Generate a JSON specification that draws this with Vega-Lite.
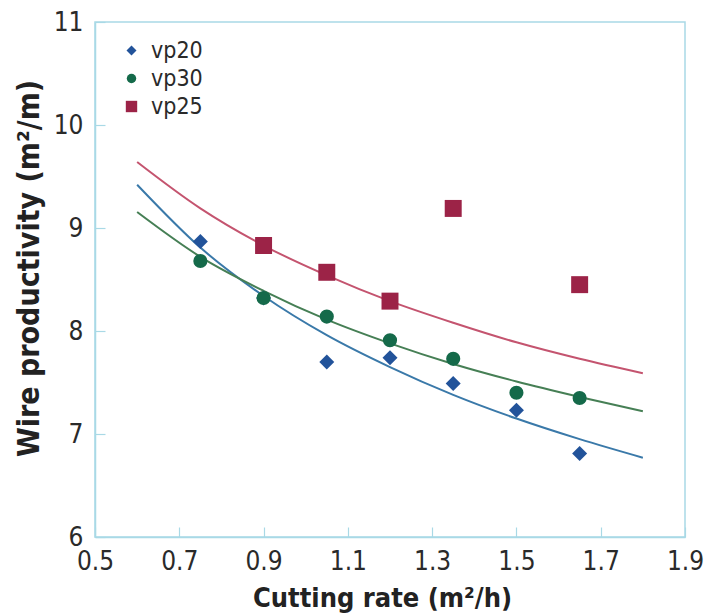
{
  "$schema": "https://vega.github.io/schema/vega-lite/v6.json",
  "width": 590,
  "height": 515,
  "autosize": {"type": "none"},
  "padding": {"left": 95, "top": 22, "right": 19, "bottom": 77},
  "background": "white",
  "config": {
    "view": {"stroke": "#a9d9e6", "strokeWidth": 1.5},
    "font": "Liberation Sans Narrow, DejaVu Sans Condensed, sans-serif",
    "axis": {
      "domainColor": "#a9d9e6",
      "domainWidth": 1.5,
      "tickColor": "#a9d9e6",
      "tickSize": -10,
      "tickWidth": 1.2,
      "grid": false,
      "labelFont": "Liberation Sans Narrow, DejaVu Sans Condensed, sans-serif",
      "labelFontSize": 26,
      "labelColor": "#2a2a2a",
      "titleFont": "Liberation Sans Narrow, DejaVu Sans Condensed, sans-serif",
      "titleFontWeight": "bold",
      "titleColor": "#222222"
    },
    "legend": {
      "labelFontSize": 23, "labelColor": "#2a2a2a", "rowPadding": 4, "labelOffset": 8,
      "symbolSize": 90,
      "labelFont": "Liberation Sans Narrow, DejaVu Sans Condensed, sans-serif"
    }
  },
  "datasets": {
    "points": [
      {"series": "vp20", "rate": 0.75, "prod": 8.87},
      {"series": "vp20", "rate": 0.9, "prod": 8.32},
      {"series": "vp20", "rate": 1.05, "prod": 7.7},
      {"series": "vp20", "rate": 1.2, "prod": 7.74},
      {"series": "vp20", "rate": 1.35, "prod": 7.49},
      {"series": "vp20", "rate": 1.5, "prod": 7.23},
      {"series": "vp20", "rate": 1.65, "prod": 6.81},
      {"series": "vp30", "rate": 0.75, "prod": 8.68},
      {"series": "vp30", "rate": 0.9, "prod": 8.32},
      {"series": "vp30", "rate": 1.05, "prod": 8.14},
      {"series": "vp30", "rate": 1.2, "prod": 7.91},
      {"series": "vp30", "rate": 1.35, "prod": 7.73},
      {"series": "vp30", "rate": 1.5, "prod": 7.4},
      {"series": "vp30", "rate": 1.65, "prod": 7.35},
      {"series": "vp25", "rate": 0.9, "prod": 8.83},
      {"series": "vp25", "rate": 1.05, "prod": 8.57},
      {"series": "vp25", "rate": 1.2, "prod": 8.29},
      {"series": "vp25", "rate": 1.35, "prod": 9.19},
      {"series": "vp25", "rate": 1.65, "prod": 8.45}
    ],
    "curves": [
      {"series": "vp20", "rate": 0.6, "prod": 9.42},
      {"series": "vp20", "rate": 0.75, "prod": 8.81},
      {"series": "vp20", "rate": 0.9, "prod": 8.34},
      {"series": "vp20", "rate": 1.05, "prod": 7.96},
      {"series": "vp20", "rate": 1.2, "prod": 7.65},
      {"series": "vp20", "rate": 1.35, "prod": 7.38},
      {"series": "vp20", "rate": 1.5, "prod": 7.15},
      {"series": "vp20", "rate": 1.65, "prod": 6.95},
      {"series": "vp20", "rate": 1.8, "prod": 6.77},
      {"series": "vp30", "rate": 0.6, "prod": 9.155},
      {"series": "vp30", "rate": 0.75, "prod": 8.72},
      {"series": "vp30", "rate": 0.9, "prod": 8.39},
      {"series": "vp30", "rate": 1.05, "prod": 8.11},
      {"series": "vp30", "rate": 1.2, "prod": 7.88},
      {"series": "vp30", "rate": 1.35, "prod": 7.68},
      {"series": "vp30", "rate": 1.5, "prod": 7.51},
      {"series": "vp30", "rate": 1.65, "prod": 7.36},
      {"series": "vp30", "rate": 1.8, "prod": 7.22},
      {"series": "vp25", "rate": 0.6, "prod": 9.64},
      {"series": "vp25", "rate": 0.75, "prod": 9.19},
      {"series": "vp25", "rate": 0.9, "prod": 8.83},
      {"series": "vp25", "rate": 1.05, "prod": 8.54},
      {"series": "vp25", "rate": 1.2, "prod": 8.29},
      {"series": "vp25", "rate": 1.35, "prod": 8.08},
      {"series": "vp25", "rate": 1.5, "prod": 7.89},
      {"series": "vp25", "rate": 1.65, "prod": 7.73},
      {"series": "vp25", "rate": 1.8, "prod": 7.59}
    ]
  },
  "encoding": {
    "x": {
      "field": "rate", "type": "quantitative",
      "scale": {"domain": [0.5, 1.9], "nice": false, "zero": false},
      "axis": {"values": [0.5, 0.7, 0.9, 1.1, 1.3, 1.5, 1.7, 1.9], "format": ".1f", "title": "Cutting rate (m²/h)",
        "labelPadding": 21, "labelFlush": false, "titleFontSize": 27, "titleX": 287, "titleY": 61, "titleBaseline": "middle", "titleAnchor": "middle"}
    },
    "y": {
      "field": "prod", "type": "quantitative",
      "scale": {"domain": [6, 11], "nice": false, "zero": false},
      "axis": {"values": [6, 7, 8, 9, 10, 11], "format": "d", "title": "Wire productivity (m²/m)",
        "labelPadding": 22, "labelFlush": false, "titleFontSize": 30, "titleX": -66, "titleY": 246, "titleBaseline": "middle", "titleAnchor": "middle"}
    }
  },
  "layer": [
    {
      "data": {"name": "curves"},
      "transform": [{"filter": "datum.series === 'vp20'"}],
      "mark": {"type": "line", "strokeWidth": 2, "interpolate": "monotone", "color": "#3a79a9"},
      "encoding": {}
    },
    {
      "data": {"name": "curves"},
      "transform": [{"filter": "datum.series === 'vp30'"}],
      "mark": {"type": "line", "strokeWidth": 2, "interpolate": "monotone", "color": "#467f55"},
      "encoding": {}
    },
    {
      "data": {"name": "curves"},
      "transform": [{"filter": "datum.series === 'vp25'"}],
      "mark": {"type": "line", "strokeWidth": 2, "interpolate": "monotone", "color": "#c4546f"},
      "encoding": {}
    },
    {
      "data": {"name": "points"},
      "mark": {"type": "point", "filled": true, "opacity": 1, "size": 200},
      "encoding": {
        "color": {
          "field": "series", "type": "nominal",
          "scale": {"domain": ["vp20", "vp30", "vp25"], "range": ["#22539a", "#156a4a", "#9c2347"]},
          "legend": {"title": null, "orient": "none", "legendX": 25, "legendY": 17}
        },
        "shape": {
          "field": "series", "type": "nominal",
          "scale": {"domain": ["vp20", "vp30", "vp25"], "range": ["M0,-1.06L1.06,0L0,1.06L-1.06,0Z", "circle", "M-1.2,-1.2H1.2V1.2H-1.2Z"]},
          "legend": {"title": null, "orient": "none", "legendX": 25, "legendY": 17}
        }
      }
    }
  ]
}
